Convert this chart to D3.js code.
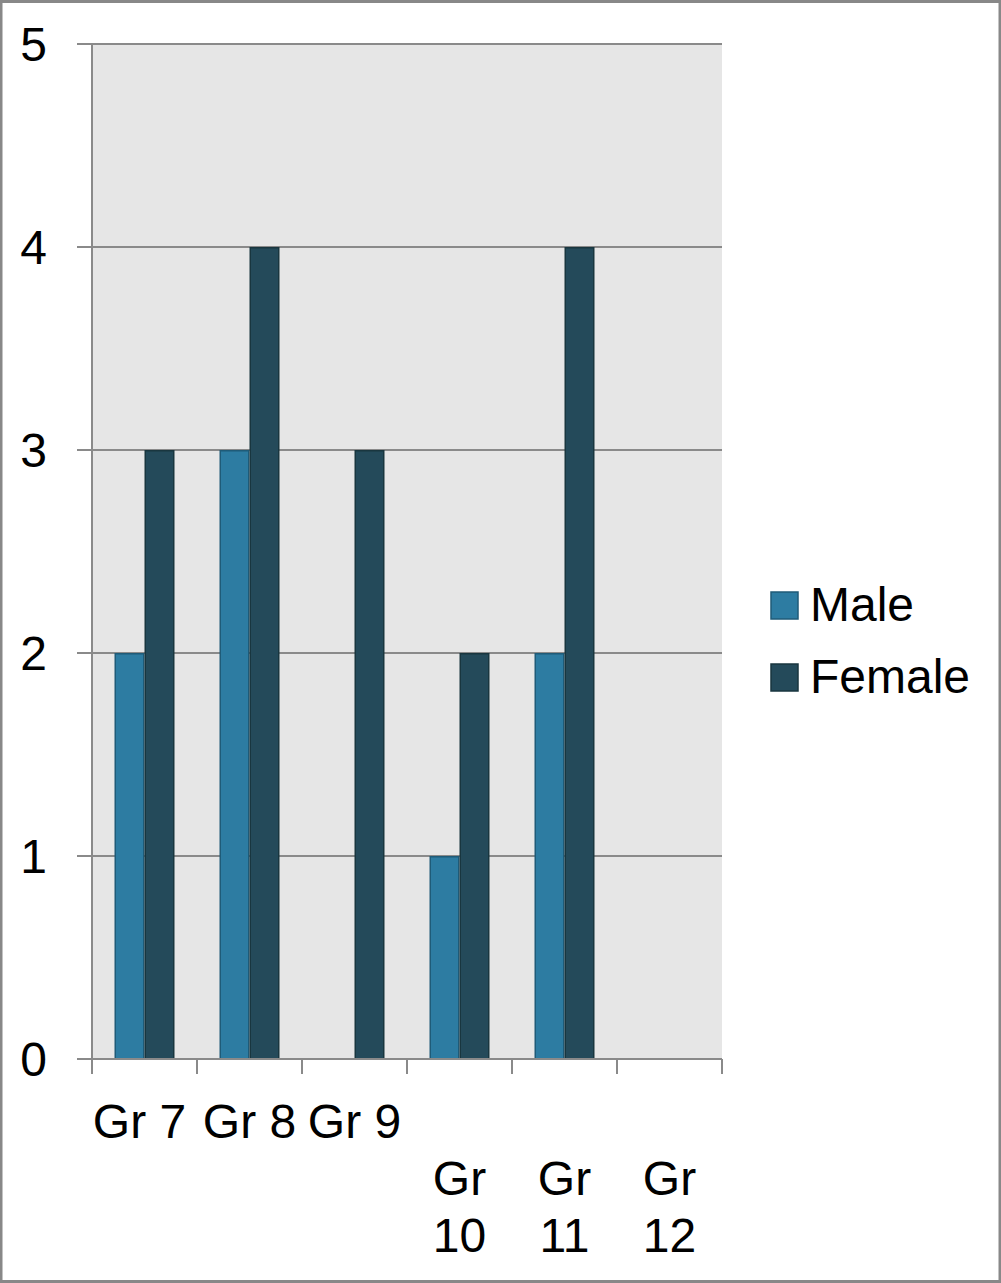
<!DOCTYPE html>
<html>
<head>
<meta charset="utf-8">
<script src="https://cdn.jsdelivr.net/npm/d3@7"></script>
<style>
  html, body { margin: 0; padding: 0; background: #fff; }
  svg { display: block; }
</style>
</head>
<body>
<script>
// Students by grade and gender
const categories = ["Gr 7", "Gr 8", "Gr 9", "Gr 10", "Gr 11", "Gr 12"];
const categoryLines = [["Gr 7"], ["Gr 8"], ["Gr 9"], ["Gr", "10"], ["Gr", "11"], ["Gr", "12"]];
const seriesNames = ["Male", "Female"];
const maleValues = [2, 3, 0, 1, 2, 0];
const femaleValues = [3, 4, 3, 2, 4, 0];
const yTicks = [0, 1, 2, 3, 4, 5];

const W = 1001, H = 1283;
const plot = { left: 92, right: 722, top: 44, bottom: 1059 };
const fills = { Male: "#2d7ca2", Female: "#244a5a" };
const strokes = { Male: "#1f5b78", Female: "#19363f" };
const font = "'Liberation Sans', Arial, sans-serif";

const svg = d3.select("body").append("svg")
  .attr("width", W).attr("height", H);

// outer frame
svg.append("rect")
  .attr("x", 1).attr("y", 1.5).attr("width", W - 2).attr("height", H - 3)
  .attr("fill", "#fff").attr("stroke", "#888").attr("stroke-width", 3);

const x = d3.scaleBand().domain(categories).range([plot.left, plot.right]);
const y = d3.scaleLinear().domain([0, 5]).range([plot.bottom, plot.top]);

// plot background
svg.append("rect")
  .attr("x", plot.left).attr("y", plot.top)
  .attr("width", plot.right - plot.left).attr("height", plot.bottom - plot.top)
  .attr("fill", "#e6e6e6");

// horizontal gridlines with left tick stubs
svg.append("g").selectAll("line").data(yTicks).join("line")
  .attr("x1", plot.left - 15).attr("x2", plot.right)
  .attr("y1", d => y(d)).attr("y2", d => y(d))
  .attr("stroke", "#8a8a8a").attr("stroke-width", 2);

// y tick labels
svg.append("g").selectAll("text").data(yTicks).join("text")
  .attr("x", 47).attr("y", d => y(d) + 17)
  .attr("text-anchor", "end")
  .attr("font-family", font).attr("font-size", 48).attr("fill", "#000")
  .text(d => d);

// bars, one group per series
const groups = [
  { name: "Male", values: maleValues },
  { name: "Female", values: femaleValues }
];
const inner = d3.scaleBand().domain(seriesNames)
  .range([0, x.bandwidth()]).paddingOuter(0.75).paddingInner(0);

groups.forEach(g => {
  svg.append("g").selectAll("rect")
    .data(g.values.map((v, i) => ({ cat: categories[i], v })).filter(d => d.v > 0))
    .join("rect")
    .attr("x", d => x(d.cat) + inner(g.name) + 0.75)
    .attr("y", d => y(d.v) + 0.75)
    .attr("width", inner.bandwidth() - 1.5)
    .attr("height", d => y(0) - y(d.v) - 0.75)
    .attr("fill", fills[g.name])
    .attr("stroke", strokes[g.name]).attr("stroke-width", 1.5);
});

// y axis line
svg.append("line")
  .attr("x1", plot.left).attr("x2", plot.left)
  .attr("y1", plot.top).attr("y2", plot.bottom)
  .attr("stroke", "#8a8a8a").attr("stroke-width", 2);

// x axis line and ticks
svg.append("line")
  .attr("x1", plot.left - 15).attr("x2", plot.right)
  .attr("y1", plot.bottom).attr("y2", plot.bottom)
  .attr("stroke", "#8a8a8a").attr("stroke-width", 2);
const tickXs = categories.map(c => x(c)).concat([plot.right]);
svg.append("g").selectAll("line").data(tickXs).join("line")
  .attr("x1", d => d).attr("x2", d => d)
  .attr("y1", plot.bottom).attr("y2", plot.bottom + 15)
  .attr("stroke", "#8a8a8a").attr("stroke-width", 2);

// category labels (wrapped)
const lineH = 57;
const labelG = svg.append("g");
categories.forEach((c, i) => {
  const lines = categoryLines[i];
  const y0 = 1138 + (lines.length - 1) * lineH;
  const t = labelG.append("text")
    .attr("text-anchor", "middle")
    .attr("font-family", font).attr("font-size", 48).attr("fill", "#000");
  lines.forEach((ln, j) => {
    t.append("tspan")
      .attr("x", x(c) + x.bandwidth() / 2 - (i === 0 ? 5 : 0))
      .attr("y", y0 + j * lineH)
      .text(ln);
  });
});

// legend
const legend = svg.append("g");
seriesNames.forEach((name, i) => {
  const ly = 592 + i * 72;
  legend.append("rect")
    .attr("x", 771).attr("y", ly).attr("width", 27).attr("height", 27)
    .attr("fill", fills[name]).attr("stroke", strokes[name]).attr("stroke-width", 1.5);
  legend.append("text")
    .attr("x", 810).attr("y", ly + 29)
    .attr("font-family", font).attr("font-size", 48).attr("fill", "#000")
    .text(name);
});
</script>
</body>
</html>
